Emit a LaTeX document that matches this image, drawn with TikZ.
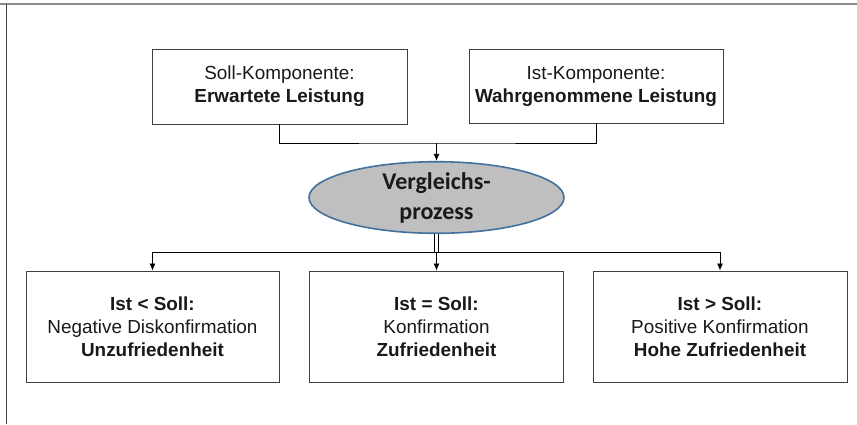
\documentclass[tikz,border=0pt]{standalone}
\usepackage{fontspec}
\setmainfont{Liberation Sans}
\newfontfamily\calfont{Carlito}
\usetikzlibrary{shapes.geometric,arrows.meta}
\definecolor{boxline}{RGB}{64,64,64}
\definecolor{framegray}{RGB}{140,140,140}
\definecolor{ovalfill}{RGB}{191,191,191}
\definecolor{ovalline}{RGB}{65,113,156}
\definecolor{txt}{RGB}{25,25,25}

\begin{document}
\begin{tikzpicture}[x=1pt,y=1pt,yscale=-1,xscale=1,
  kbox/.style={draw=boxline,line width=0.9pt,align=center,inner sep=0pt,text=txt,
    font=\fontsize{18.9}{23}\selectfont},
  oval/.style={ellipse,draw=ovalline,line width=1.6pt,fill=ovalfill,align=center,
    inner sep=0pt,minimum width=255,minimum height=69,text=txt,
    font=\calfont\bfseries\fontsize{24}{30}\selectfont},
  pfeil/.style={line width=0.8pt,-{Latex[length=7pt,width=6pt]}},
  linie/.style={line width=0.8pt}]
\useasboundingbox (0,0) rectangle (857,424);

%Shape: frame
\draw[framegray,line width=1.5pt] (0,4) -- (857,4);
\draw[boxline,line width=1pt] (6,4) -- (6,424);

% Text Node
\node[kbox,minimum width=255,minimum height=75] (soll) at (279.5,86.5) {Soll-Komponente:\\\textbf{Erwartete Leistung}};
% Text Node
\node[kbox,minimum width=254,minimum height=74] (ist) at (596,86) {Ist-Komponente:\\\textbf{Wahrgenommene Leistung}};
% Ellipse
\node[oval] (vgl) at (436.5,197.5) {Vergleichs-\\prozess};

% Text Node
\node[kbox,minimum width=253,minimum height=111] (neg) at (152.5,326.5) {\textbf{Ist < Soll:}\\Negative Diskonfirmation\\\textbf{Unzufriedenheit}};
% Text Node
\node[kbox,minimum width=254,minimum height=111] (kon) at (436.5,326.5) {\textbf{Ist = Soll:}\\Konfirmation\\\textbf{Zufriedenheit}};
% Text Node
\node[kbox,minimum width=254,minimum height=111] (pos) at (720,326.5) {\textbf{Ist > Soll:}\\Positive Konfirmation\\\textbf{Hohe Zufriedenheit}};

\coordinate (oben) at (436.5,143);
\coordinate (unten) at (436.5,252);

%Connectors
\draw[linie] (soll.south) |- (oben) -| (ist.south);
\draw[pfeil] (oben) -- (vgl.north);
\draw[linie,double,double distance=2.5pt] (vgl.south) -- (unten);
\draw[pfeil] (unten) -- (kon.north);
\draw[pfeil] (unten) -| (neg.north);
\draw[pfeil] (unten) -| (pos.north);
\end{tikzpicture}
\end{document}
